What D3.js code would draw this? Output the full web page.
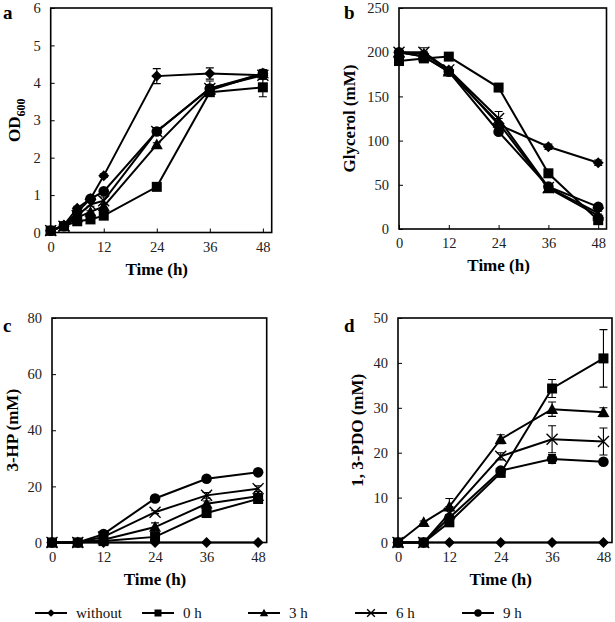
<!DOCTYPE html>
<html><head><meta charset="utf-8">
<script src="https://cdn.jsdelivr.net/npm/d3@7"></script>
<style>body{margin:0;background:#fff}svg{display:block}text{font-family:'Liberation Serif','Times New Roman',serif}</style>
</head><body>
<svg id="c" width="615" height="622"></svg>
<script>
const seriesNames = ["without", "0 h", "3 h", "6 h", "9 h"];
const markerTypes = ["diamond", "square", "triangle", "cross", "circle"];
const timesA = [0, 3, 6, 9, 12, 24, 36, 48];
const timesBCD = [0, 6, 12, 24, 36, 48];
const xTicks = [0, 12, 24, 36, 48];

// a: OD600
const odMeans = [
  [0.05, 0.2, 0.65, 0.9, 1.52, 4.18, 4.25, 4.2],
  [0.05, 0.17, 0.3, 0.35, 0.45, 1.22, 3.75, 3.88],
  [0.05, 0.17, 0.4, 0.55, 0.7, 2.35, 3.8, 4.25],
  [0.05, 0.17, 0.45, 0.75, 0.85, 2.7, 3.85, 4.2],
  [0.05, 0.17, 0.55, 0.9, 1.1, 2.7, 3.85, 4.25]
];
const odErr = [
  [0, 0, 0.05, 0.05, 0.05, 0.2, 0.15, 0.1],
  [0, 0, 0, 0, 0.03, 0.05, 0.1, 0.25],
  [0, 0, 0, 0.03, 0.05, 0.05, 0.1, 0.1],
  [0, 0, 0.05, 0.05, 0.1, 0.1, 0.2, 0.1],
  [0, 0, 0.05, 0.05, 0.05, 0.1, 0.1, 0.1]
];
const odTicks = [0, 1, 2, 3, 4, 5, 6];

// b: Glycerol
const glyMeans = [
  [200, 198, 180, 118, 93, 75],
  [190, 193, 195, 160, 63, 10],
  [200, 195, 178, 120, 46, 15],
  [200, 200, 180, 125, 47, 18],
  [200, 195, 178, 110, 48, 25]
];
const glyErr = [
  [2, 3, 2, 3, 3, 3],
  [3, 3, 3, 3, 3, 3],
  [2, 4, 3, 5, 2, 2],
  [2, 5, 3, 8, 2, 2],
  [2, 3, 2, 3, 2, 2]
];
const glyTicks = [0, 50, 100, 150, 200, 250];

// c: 3-HP
const hpMeans = [
  [0, 0, 0, 0, 0, 0],
  [0, 0, 0.5, 2, 10.5, 15.5],
  [0, 0, 1, 5.5, 13.8, 16.5],
  [0, 0, 2, 10.8, 16.8, 19.2],
  [0, 0, 3, 15.7, 22.7, 25]
];
const hpErr = [
  [0, 0, 0, 0, 0, 0],
  [0, 0, 0.3, 0.5, 1, 1],
  [0, 0, 0.3, 1.5, 1, 1],
  [0, 0, 0.3, 0.5, 1, 1],
  [0, 0, 0.3, 0.5, 0.5, 0.5]
];
const hpTicks = [0, 20, 40, 60, 80];

// d: 1,3-PDO
const pdoMeans = [
  [0, 0, 0, 0, 0, 0],
  [0, 0, 4.5, 15.5, 34.3, 41],
  [0, 4.5, 8, 23, 29.7, 29],
  [0, 0, 6.5, 19.2, 23, 22.5],
  [0, 0, 5.5, 16, 18.6, 18]
];
const pdoErr = [
  [0, 0, 0, 0, 0, 0],
  [0, 0, 0.5, 0.5, 2, 6.4],
  [0, 0.3, 1.8, 1, 1.6, 1],
  [0, 0, 1.5, 0.8, 3, 3],
  [0, 0, 0.5, 0.5, 1, 0.5]
];
const pdoTicks = [0, 10, 20, 30, 40, 50];

const svg = d3.select("#c");
const FONT = "'Liberation Serif','Times New Roman',serif";

function marker(g, type, x, y, s) {
  const k = s || 1;
  if (type === "diamond") {
    const r = 5.5 * k;
    g.append("path").attr("d", `M${x},${y - r}L${x + r},${y}L${x},${y + r}L${x - r},${y}Z`).attr("fill", "#000");
  } else if (type === "square") {
    const r = 5 * k;
    g.append("rect").attr("x", x - r).attr("y", y - r).attr("width", 2 * r).attr("height", 2 * r).attr("fill", "#000");
  } else if (type === "triangle") {
    const r = 6 * k;
    g.append("path").attr("d", `M${x},${y - r}L${x + r},${y + r * 0.8}L${x - r},${y + r * 0.8}Z`).attr("fill", "#000");
  } else if (type === "cross") {
    const r = 5.5 * k;
    g.append("path").attr("d", `M${x - r},${y - r}L${x + r},${y + r}M${x - r},${y + r}L${x + r},${y - r}`)
      .attr("stroke", "#000").attr("stroke-width", 1.4).attr("fill", "none");
  } else if (type === "circle") {
    g.append("circle").attr("cx", x).attr("cy", y).attr("r", 5.3 * k).attr("fill", "#000");
  }
}

function styleAxis(a) {
  a.select(".domain").remove();
  a.attr("font-family", FONT);
  a.selectAll("text").style("font-family", FONT).attr("font-size", 14.5).attr("fill", "#222");
  a.selectAll("line").attr("stroke", "#000");
}

function panel(opts) {
  const { left, right, top, bottom, yMax, yTicks, times, means, errs, letter, yLabel, letterX, letterY, yLabelX } = opts;
  const x = d3.scaleLinear().domain([0, 50]).range([left, right]);
  const y = d3.scaleLinear().domain([0, yMax]).range([bottom, top]);
  const g = svg.append("g");

  g.append("g").attr("transform", `translate(0,${bottom})`)
    .call(d3.axisBottom(x).tickValues(xTicks).tickFormat(d3.format("d")).tickSizeInner(-4).tickSizeOuter(0).tickPadding(9))
    .call(styleAxis);
  g.append("g").attr("transform", `translate(${left},0)`)
    .call(d3.axisLeft(y).tickValues(yTicks).tickFormat(d3.format("d")).tickSizeInner(-4).tickSizeOuter(0).tickPadding(10))
    .call(styleAxis);

  g.append("rect").attr("x", left).attr("y", top).attr("width", right - left).attr("height", bottom - top)
    .attr("fill", "none").attr("stroke", "#000").attr("stroke-width", 1.6);

  means.forEach((ser, si) => {
    ser.forEach((v, i) => {
      const e = errs[si][i];
      if (!e) return;
      const cx = x(times[i]);
      g.append("path")
        .attr("d", `M${cx},${y(v - e)}L${cx},${y(v + e)}M${cx - 4},${y(v - e)}L${cx + 4},${y(v - e)}M${cx - 4},${y(v + e)}L${cx + 4},${y(v + e)}`)
        .attr("stroke", "#000").attr("stroke-width", 1.1).attr("fill", "none");
    });
  });
  const line = d3.line().x((d, i) => x(times[i])).y(d => y(d));
  means.forEach(ser => {
    g.append("path").attr("d", line(ser)).attr("fill", "none").attr("stroke", "#000").attr("stroke-width", 2);
  });
  means.forEach((ser, si) => {
    ser.forEach((v, i) => marker(g, markerTypes[si], x(times[i]), y(v)));
  });

  svg.append("text").attr("x", letterX).attr("y", letterY).text(letter)
    .style("font-family", FONT).attr("font-weight", "bold").attr("font-size", 19);
  svg.append("text").attr("x", (x(0) + x(48)) / 2).attr("y", bottom + 42).attr("text-anchor", "middle")
    .text("Time (h)").style("font-family", FONT).attr("font-weight", "bold").attr("font-size", 17);
  const yl = svg.append("text").attr("transform", `translate(${yLabelX},${(top + bottom) / 2}) rotate(-90)`)
    .attr("text-anchor", "middle").style("font-family", FONT).attr("font-weight", "bold").attr("font-size", 17);
  if (Array.isArray(yLabel)) {
    yl.append("tspan").text(yLabel[0]);
    yl.append("tspan").text(yLabel[1]).attr("font-size", 12).attr("dy", 5);
  } else yl.text(yLabel);
}

panel({ left: 50.7, right: 271.7, top: 8, bottom: 232.5, yMax: 6, yTicks: odTicks, times: timesA,
  means: odMeans, errs: odErr, letter: "a", letterX: 3, letterY: 19, yLabel: ["OD", "600"], yLabelX: 20 });
panel({ left: 399, right: 606.5, top: 8, bottom: 229, yMax: 250, yTicks: glyTicks, times: timesBCD,
  means: glyMeans, errs: glyErr, letter: "b", letterX: 344, letterY: 19, yLabel: "Glycerol (mM)", yLabelX: 355 });
panel({ left: 52, right: 266.7, top: 318, bottom: 542.5, yMax: 80, yTicks: hpTicks, times: timesBCD,
  means: hpMeans, errs: hpErr, letter: "c", letterX: 3, letterY: 332, yLabel: "3-HP (mM)", yLabelX: 18 });
panel({ left: 398, right: 612, top: 318, bottom: 542.5, yMax: 50, yTicks: pdoTicks, times: timesBCD,
  means: pdoMeans, errs: pdoErr, letter: "d", letterX: 344, letterY: 332, yLabel: "1, 3-PDO (mM)", yLabelX: 363 });

const legX = [35, 142, 248, 355, 462];
const legY = 613;
const lg = svg.append("g");
seriesNames.forEach((name, i) => {
  const x0 = legX[i];
  lg.append("line").attr("x1", x0).attr("x2", x0 + 32).attr("y1", legY).attr("y2", legY).attr("stroke", "#000").attr("stroke-width", 2);
  marker(lg, markerTypes[i], x0 + 16, legY, 0.7);
  lg.append("text").attr("x", x0 + 41).attr("y", legY + 5).text(name)
    .style("font-family", FONT).attr("font-size", 15).attr("fill", "#111");
});
</script>
</body></html>
